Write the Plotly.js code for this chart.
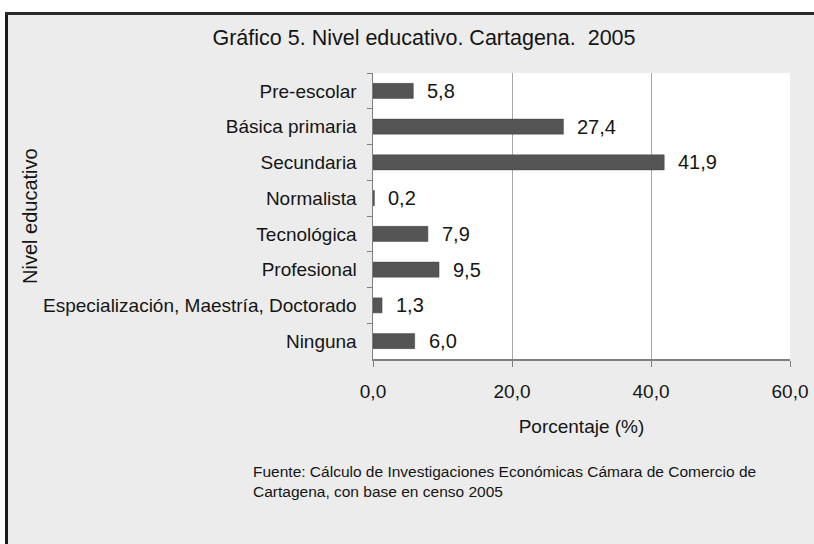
<!DOCTYPE html>
<html>
<head>
<meta charset="utf-8">
<script src="https://cdn.plot.ly/plotly-3.0.1.min.js"></script>
<style>html,body{margin:0;padding:0;background:#ececec;overflow:hidden;}#chart{width:814px;height:544px;}</style>
</head>
<body>
<div id="chart"></div>
<script>
const categories = ["Pre-escolar", "Básica primaria", "Secundaria", "Normalista", "Tecnológica", "Profesional", "Especialización, Maestría, Doctorado", "Ninguna"];
const values = [5.8, 27.4, 41.9, 0.2, 7.9, 9.5, 1.3, 6.0];
const xTicks = [0, 20, 40, 60];
const titleText = "Gráfico 5. Nivel educativo. Cartagena.  2005";
const xTitle = "Porcentaje (%)";
const yTitle = "Nivel educativo";
const sourceText = "Fuente: Cálculo de Investigaciones Económicas Cámara de Comercio de<br>Cartagena, con base en censo 2005";

const L = 373, R = 790, T = 73, B = 359, W = 814, H = 544;
const pw = R - L, ph = B - T;
const px = v => (v - L) / pw;
const py = v => (B - v) / ph;
const font = "Liberation Sans, Arial, sans-serif";
const ink = "#151515";

const labelAnnotations = categories.map((c, i) => ({
  x: values[i], y: c, xref: "x", yref: "y",
  text: values[i].toFixed(1).replace(".", ","),
  showarrow: false, xanchor: "left", xshift: 12,
  font: {family: font, size: 20, color: ink}
}));

const data = [{
  type: "bar", orientation: "h",
  x: values, y: categories,
  marker: {color: "#555555", line: {color: "#444", width: 0.5}},
  hoverinfo: "none"
}];

const layout = {
  width: W, height: H,
  margin: {l: L, r: W - R, t: T, b: H - B, pad: 0},
  paper_bgcolor: "#ececec",
  plot_bgcolor: "#ffffff",
  separators: ",.",
  bargap: 0.58,
  showlegend: false,
  font: {family: font, color: ink},
  title: {text: titleText, x: px(424), xref: "paper", xanchor: "center", y: 1 - 37 / H, yanchor: "middle", font: {family: font, size: 21.5, color: ink}},
  xaxis: {
    range: [0, 60], tickvals: xTicks, tickformat: ".1f",
    showgrid: true, gridcolor: "#a8a8a8", gridwidth: 1,
    showline: true, linecolor: "#808080", linewidth: 1.5,
    ticks: "outside", ticklen: 6, tickcolor: "#808080",
    tickfont: {family: font, size: 19, color: ink},
    ticklabelstandoff: 9,
    zeroline: false, fixedrange: true,
    title: {text: xTitle, font: {family: font, size: 19, color: ink}, standoff: 18}
  },
  yaxis: {
    type: "category", autorange: "reversed",
    showline: true, linecolor: "#808080", linewidth: 1.5,
    ticks: "outside", tickson: "boundaries", ticklen: 5, tickcolor: "#808080",
    tickfont: {family: font, size: 19, color: ink},
    ticklabelstandoff: 11,
    showgrid: false, zeroline: false, fixedrange: true
  },
  annotations: labelAnnotations.concat([
    {xref: "paper", yref: "paper", x: px(251), y: py(481), xanchor: "left", yanchor: "middle", align: "left",
     text: sourceText, showarrow: false, font: {family: font, size: 15.5, color: ink}},
    {xref: "paper", yref: "paper", x: px(30), y: py(216), xanchor: "center", yanchor: "middle",
     textangle: -90, text: yTitle, showarrow: false, font: {family: font, size: 20, color: ink}}
  ]),
  shapes: [
    {type: "rect", layer: "below", xref: "paper", yref: "paper", x0: px(0), x1: px(W), y0: py(0), y1: py(12),
     fillcolor: "#ffffff", line: {width: 0}},
    {type: "rect", layer: "below", xref: "paper", yref: "paper", x0: px(0), x1: px(5), y0: py(0), y1: py(H),
     fillcolor: "#ffffff", line: {width: 0}},
    {type: "line", layer: "below", xref: "paper", yref: "paper", x0: px(6.5), x1: px(6.5), y0: py(12), y1: py(H),
     line: {color: "#1a1a1a", width: 3}},
    {type: "line", layer: "below", xref: "paper", yref: "paper", x0: px(5), x1: px(W), y0: py(13.5), y1: py(13.5),
     line: {color: "#2a2a2a", width: 3}}
  ]
};

Plotly.newPlot("chart", data, layout, {staticPlot: true, displayModeBar: false});
</script>
</body>
</html>
